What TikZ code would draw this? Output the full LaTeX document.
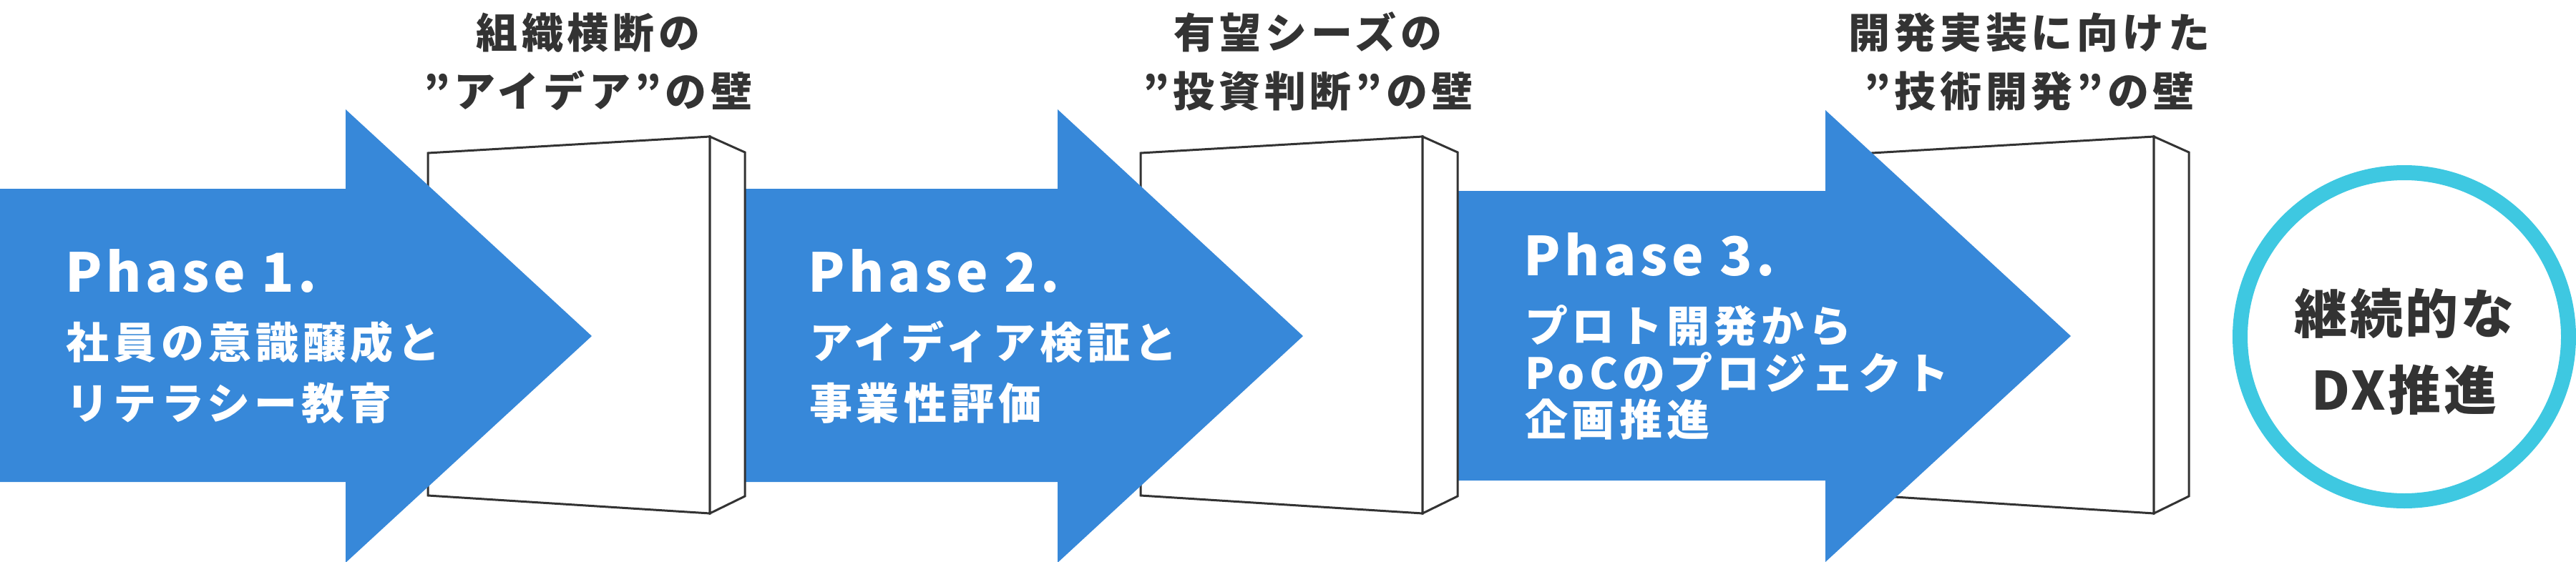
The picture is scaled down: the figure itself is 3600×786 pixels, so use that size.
\documentclass[tikz,border=0pt]{standalone}
\usepackage{fontspec}
\newfontfamily\jp{Noto Sans CJK JP}[LetterSpace=10]
\newfontfamily\jph{Noto Sans CJK JP}[LetterSpace=7.5]
\newfontfamily\jpc{Noto Sans CJK JP}[LetterSpace=5]
\definecolor{arrowblue}{HTML}{3788D9}
\definecolor{ringcyan}{HTML}{3EC8E1}
\definecolor{darktext}{HTML}{333333}
\tikzset{
  arrowshape/.style={fill=arrowblue, draw=none},
  wallface/.style={fill=white, draw=darktext, line width=0.6pt, line join=miter},
  phasehead/.style={text=white, inner sep=0pt, anchor=base west, font=\jph\bfseries\fontsize{15pt}{18pt}\selectfont},
  phasebody/.style={text=white, inner sep=0pt, anchor=base west, font=\jp\bfseries\fontsize{12pt}{14pt}\selectfont},
  walltitle/.style={text=darktext, inner sep=0pt, anchor=base, font=\jp\bfseries\fontsize{11.6pt}{14pt}\selectfont},
  goaltext/.style={text=darktext, inner sep=0pt, anchor=base, font=\jpc\bfseries\fontsize{14.8pt}{17pt}\selectfont},
  ring/.style={draw=ringcyan, line width=4.2pt, fill=white}
}
\begin{document}
\begin{tikzpicture}[x=0.2pt, y=-0.2pt]
\useasboundingbox (0,0) rectangle (3600,786);
% wall 3
\filldraw[wallface] (2616,214) -- (3010,191) -- (3010,718) -- (2616,693) -- cycle;
\filldraw[wallface] (3010,191) -- (3059,213) -- (3059,694) -- (3010,718) -- cycle;
% arrow 3
\fill[arrowshape] (1800,267) -- (2551,267) -- (2551,154) -- (2894,470) -- (2551,786) -- (2551,672) -- (1800,672) -- cycle;
% wall 2
\filldraw[wallface] (1594,214) -- (1988,191) -- (1988,718) -- (1594,693) -- cycle;
\filldraw[wallface] (1988,191) -- (2037,213) -- (2037,694) -- (1988,718) -- cycle;
% arrow 2
\fill[arrowshape] (800,264) -- (1478,264) -- (1478,153) -- (1821,470) -- (1478,787) -- (1478,674) -- (800,674) -- cycle;
% wall 1
\filldraw[wallface] (598,214) -- (992,191) -- (992,718) -- (598,693) -- cycle;
\filldraw[wallface] (992,191) -- (1041,213) -- (1041,694) -- (992,718) -- cycle;
% arrow 1
\fill[arrowshape] (-10,264) -- (483,264) -- (483,153) -- (827,470) -- (483,787) -- (483,674) -- (-10,674) -- cycle;
% goal circle
\draw[ring] (3360,471) circle[radius=229.5];

% phase texts
\node[phasehead] (p1h) at (90,408) {Phase 1.};
\node[phasebody] (p1a) at (92,501) {社員の意識醸成と};
\node[phasebody] (p1b) at (92,586) {リテラシー教育};

\node[phasehead] (p2h) at (1128,408) {Phase 2.};
\node[phasebody] (p2a) at (1130,501) {アイディア検証と};
\node[phasebody] (p2b) at (1130,586) {事業性評価};

\node[phasehead] (p3h) at (2128,385) {Phase 3.};
\node[phasebody] (p3a) at (2130,478) {プロト開発から};
\node[phasebody] (p3b) at (2130,544) {PoCのプロジェクト};
\node[phasebody] (p3c) at (2130,609) {企画推進};

% wall titles
\node[walltitle] (w1a) at (822,68) {組織横断の};
\node[walltitle] (w1b) at (822,149) {”アイデア”の壁};
\node[walltitle] (w2a) at (1828,68) {有望シーズの};
\node[walltitle] (w2b) at (1828,149) {”投資判断”の壁};
\node[walltitle] (w3a) at (2836,68) {開発実装に向けた};
\node[walltitle] (w3b) at (2836,149) {”技術開発”の壁};

% goal text
\node[goaltext] (g1) at (3360,466) {継続的な};
\node[goaltext] (g2) at (3360,573) {DX推進};
\end{tikzpicture}
\end{document}
